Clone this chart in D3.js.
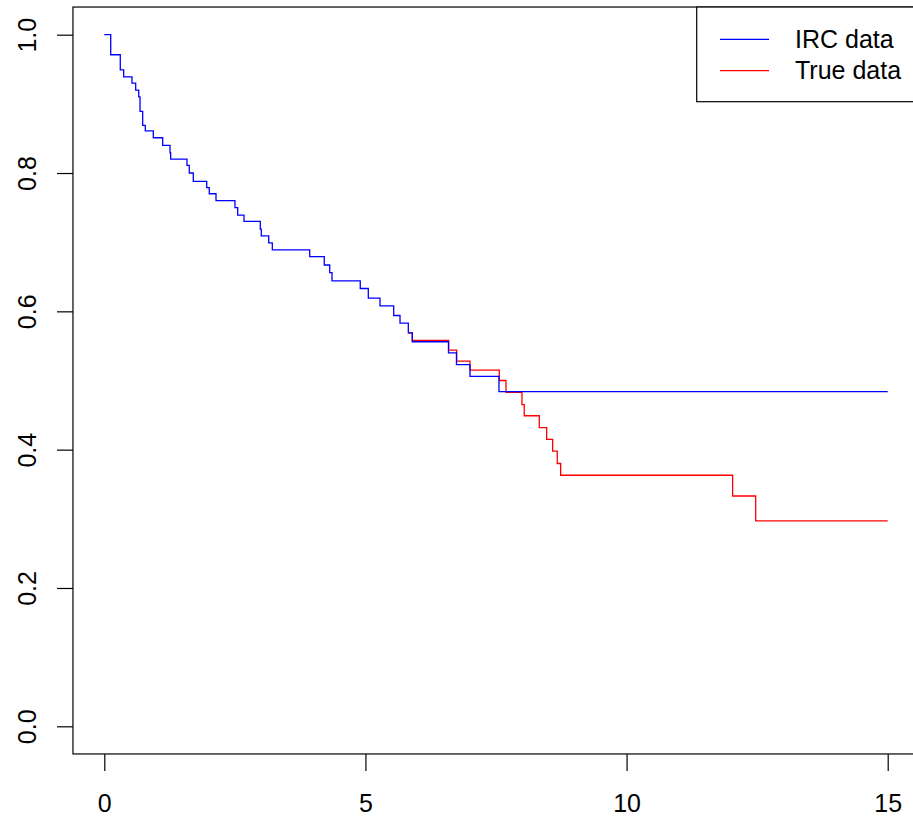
<!DOCTYPE html>
<html>
<head>
  <meta charset="utf-8">
  <title>IRC vs True data - survival curves</title>
  <script src="https://d3js.org/d3.v7.min.js"></script>
  <style>
    body { margin: 0; background: #fff; }
    text { font-family: "Liberation Sans", Arial, sans-serif; fill: #000; }
  </style>
</head>
<body>
<div id="vis"></div>
<script>
  // step times and survival after each step
  var ircTime = [0, 0.123, 0.306, 0.371, 0.530, 0.601, 0.659, 0.684, 0.735, 0.785, 0.938,
    1.118, 1.258, 1.271, 1.583, 1.627, 1.704, 1.961, 2.010, 2.139, 2.502, 2.554, 2.675,
    2.987, 3.006, 3.148, 3.217, 3.933, 4.212, 4.316, 4.360, 4.901, 5.055, 5.279, 5.541,
    5.662, 5.821, 5.897, 6.590, 6.743, 7.002, 7.557, 15];
  var ircSurv = [1, 0.971, 0.949, 0.939, 0.930, 0.920, 0.910, 0.889, 0.869, 0.861, 0.851,
    0.840, 0.829, 0.820, 0.811, 0.800, 0.788, 0.779, 0.770, 0.760, 0.750, 0.739, 0.730,
    0.719, 0.709, 0.699, 0.689, 0.679, 0.667, 0.656, 0.644, 0.633, 0.619, 0.608, 0.594,
    0.583, 0.569, 0.556, 0.540, 0.523, 0.506, 0.484, 0.484];

  // the red curve only shows where it leaves the blue one
  var trueTime = [5.821, 5.897, 6.594, 6.747, 7.002, 7.563, 7.691, 7.997, 8.041, 8.329,
    8.470, 8.585, 8.673, 8.738, 12.031, 12.472, 15];
  var trueSurv = [0.569, 0.558, 0.544, 0.528, 0.515, 0.500, 0.483, 0.465, 0.449, 0.432,
    0.415, 0.398, 0.380, 0.363, 0.333, 0.297, 0.297];

  var xTicks = [0, 5, 10, 15];
  var yTicks = [0, 0.2, 0.4, 0.6, 0.8, 1.0];
  var legendLabels = ["IRC data", "True data"];
  var legendColors = ["#0000ff", "#ff0000"];

  var width = 913, height = 817;

  var svg = d3.select("#vis").append("svg")
    .attr("width", width)
    .attr("height", height);

  var x = d3.scaleLinear().domain([0, 15]).range([104.3, 887.7]);
  var y = d3.scaleLinear().domain([0, 1]).range([726.3, 34.7]);

  // R style box, 4% extension around the data range
  var x0 = x(-0.6), x1 = x(15.6), y0 = y(-0.04), y1 = y(1.04);

  var line = d3.line()
    .x(function(d) { return x(d[0]); })
    .y(function(d) { return y(d[1]); })
    .curve(d3.curveStepAfter);

  var trueData = trueTime.map(function(t, i) { return [t, trueSurv[i]]; });
  var ircData = ircTime.map(function(t, i) { return [t, ircSurv[i]]; });

  // red first, blue on top where they overlap
  svg.append("path")
    .datum(trueData)
    .attr("fill", "none")
    .attr("stroke", legendColors[1])
    .attr("stroke-width", 1.3)
    .attr("d", line);

  svg.append("path")
    .datum(ircData)
    .attr("fill", "none")
    .attr("stroke", legendColors[0])
    .attr("stroke-width", 1.3)
    .attr("d", line);

  // x axis
  var xAxis = svg.append("g")
    .attr("transform", "translate(0," + y0 + ")")
    .call(d3.axisBottom(x).tickValues(xTicks).tickSize(17).tickPadding(23).tickFormat(d3.format("d")));
  xAxis.select(".domain").remove();
  xAxis.selectAll("line").attr("stroke", "#000").attr("stroke-width", 1.2);
  xAxis.selectAll("text").style("font-size", "25px").attr("fill", "#000");

  // y axis, labels rotated like R's default las=0
  var yAxis = svg.append("g")
    .attr("transform", "translate(" + x0 + ",0)")
    .call(d3.axisLeft(y).tickValues(yTicks).tickSize(16).tickFormat(d3.format(".1f")));
  yAxis.select(".domain").remove();
  yAxis.selectAll("line").attr("stroke", "#000").attr("stroke-width", 1.2);
  yAxis.selectAll("text")
    .attr("x", 0)
    .attr("y", -37)
    .attr("dy", 0)
    .attr("text-anchor", "middle")
    .attr("transform", "rotate(-90)")
    .style("font-size", "25px")
    .attr("fill", "#000");

  // plot box
  svg.append("rect")
    .attr("x", x0).attr("y", y1)
    .attr("width", x1 - x0).attr("height", y0 - y1)
    .attr("fill", "none")
    .attr("stroke", "#000")
    .attr("stroke-width", 1.2);

  // legend, top right corner
  var legend = svg.append("g");
  legend.append("rect")
    .attr("x", 696.7).attr("y", y1)
    .attr("width", x1 - 696.7).attr("height", 101.7 - y1)
    .attr("fill", "#fff")
    .attr("stroke", "#000")
    .attr("stroke-width", 1.2);

  var items = legend.selectAll("g.item")
    .data(legendLabels)
    .enter().append("g")
    .attr("class", "item")
    .attr("transform", function(d, i) { return "translate(0," + (39.3 + i * 31.4) + ")"; });

  items.append("line")
    .attr("x1", 720).attr("x2", 769)
    .attr("y1", 0).attr("y2", 0)
    .attr("stroke", function(d, i) { return legendColors[i]; })
    .attr("stroke-width", 1.3);

  items.append("text")
    .attr("x", 795)
    .attr("y", 0)
    .attr("dy", "0.35em")
    .style("font-size", "25px")
    .text(function(d) { return d; });
</script>
</body>
</html>
